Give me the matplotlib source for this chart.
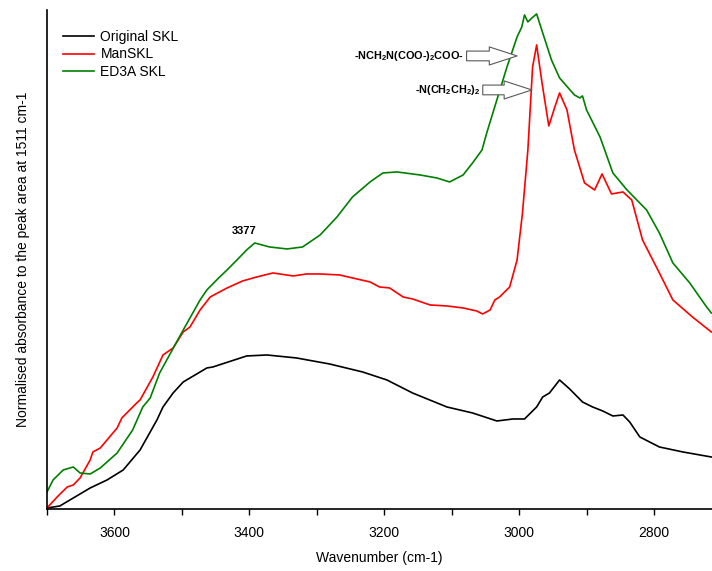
import matplotlib.pyplot as plt
from matplotlib.ticker import MultipleLocator, NullLocator

plt.rcParams["font.family"] = ["Liberation Sans", "DejaVu Sans"]
plt.rcParams["mathtext.fontset"] = "custom"
plt.rcParams["mathtext.rm"] = "Liberation Sans"
plt.rcParams["mathtext.bf"] = "Liberation Sans:bold"

# wavenumber (cm-1) / normalised absorbance
orig_wn = [3700, 3681, 3661, 3636, 3611, 3587, 3562, 3537, 3528, 3513, 3498, 3463,
           3454, 3404, 3374, 3330, 3281, 3232, 3196, 3158, 3107, 3069, 3033, 3009,
           2992, 2974, 2965, 2955, 2940, 2925, 2906, 2891, 2876, 2861, 2846, 2836,
           2821, 2792, 2757, 2715]
orig_abs = [0.002, 0.006, 0.022, 0.042, 0.058, 0.078, 0.118, 0.178, 0.204, 0.232, 0.254, 0.282,
            0.284, 0.306, 0.308, 0.302, 0.290, 0.274, 0.258, 0.232, 0.204, 0.192, 0.176, 0.180,
            0.180, 0.204, 0.224, 0.232, 0.258, 0.240, 0.214, 0.204, 0.196, 0.186, 0.188, 0.174,
            0.144, 0.124, 0.114, 0.104]

man_wn = [3700, 3685, 3670, 3661, 3651, 3636, 3632, 3621, 3611, 3596, 3589, 3567,
          3562, 3543, 3528, 3513, 3498, 3488, 3473, 3458, 3433, 3410, 3389, 3365,
          3335, 3315, 3295, 3266, 3247, 3221, 3207, 3192, 3172, 3158, 3132, 3107,
          3083, 3063, 3054, 3043, 3036, 3029, 3014, 3003, 2995, 2987, 2980, 2974,
          2966, 2956, 2947, 2940, 2929, 2918, 2903, 2888, 2877, 2863, 2846, 2833,
          2817, 2792, 2772, 2743, 2715]
man_abs = [0.002, 0.024, 0.044, 0.048, 0.062, 0.098, 0.114, 0.122, 0.138, 0.162, 0.182, 0.212,
           0.218, 0.264, 0.308, 0.322, 0.354, 0.364, 0.398, 0.424, 0.442, 0.456, 0.464, 0.472,
           0.466, 0.470, 0.470, 0.468, 0.462, 0.454, 0.444, 0.442, 0.424, 0.420, 0.408, 0.406,
           0.402, 0.396, 0.390, 0.398, 0.418, 0.424, 0.444, 0.498, 0.592, 0.718, 0.884, 0.928,
           0.852, 0.766, 0.804, 0.832, 0.798, 0.718, 0.652, 0.638, 0.670, 0.630, 0.634, 0.618,
           0.538, 0.472, 0.418, 0.384, 0.354]

ed3a_wn = [3700, 3691, 3676, 3661, 3651, 3636, 3621, 3596, 3573, 3558, 3547, 3533,
           3498, 3473, 3463, 3444, 3433, 3414, 3404, 3392, 3370, 3344, 3321, 3295,
           3270, 3247, 3221, 3202, 3181, 3147, 3122, 3103, 3083, 3069, 3055, 3048,
           3033, 3018, 3003, 2996, 2992, 2987, 2981, 2974, 2965, 2952, 2940, 2918,
           2910, 2906, 2900, 2880, 2861, 2840, 2811, 2792, 2772, 2747, 2722, 2715]
ed3a_abs = [0.034, 0.058, 0.078, 0.084, 0.072, 0.070, 0.082, 0.112, 0.158, 0.204, 0.222, 0.272,
            0.358, 0.418, 0.438, 0.464, 0.478, 0.504, 0.518, 0.532, 0.524, 0.520, 0.524, 0.548,
            0.584, 0.624, 0.654, 0.672, 0.674, 0.668, 0.662, 0.654, 0.668, 0.692, 0.718, 0.752,
            0.818, 0.884, 0.944, 0.964, 0.988, 0.974, 0.982, 0.990, 0.952, 0.898, 0.862, 0.828,
            0.822, 0.826, 0.798, 0.744, 0.672, 0.638, 0.598, 0.552, 0.492, 0.452, 0.404, 0.392]

fig = plt.figure(figsize=(7.12, 5.71), dpi=100)
ax = fig.add_axes([0.066, 0.1086, 0.934, 0.874])

ax.plot(orig_wn, orig_abs, color="black", lw=1.2, label="Original SKL")
ax.plot(man_wn, man_abs, color="#ff0000", lw=1.2, label="ManSKL")
ax.plot(ed3a_wn, ed3a_abs, color="#008000", lw=1.2, label="ED3A SKL")

ax.set_xlim(3700, 2714)
ax.set_ylim(0, 0.998)

ax.spines["top"].set_visible(False)
ax.spines["right"].set_visible(False)
ax.spines["left"].set_linewidth(1.2)
ax.spines["bottom"].set_linewidth(1.2)
ax.xaxis.set_major_locator(MultipleLocator(200))
ax.xaxis.set_minor_locator(MultipleLocator(100))
ax.yaxis.set_major_locator(NullLocator())
ax.tick_params(axis="x", which="both", direction="out", length=4, width=1, labelsize=10, pad=8)

ax.set_xlabel("Wavenumber (cm-1)", fontsize=10, labelpad=8)
ax.set_ylabel("Normalised absorbance to the peak area at 1511 cm-1", fontsize=10, labelpad=12)

ax.legend(loc="upper left", bbox_to_anchor=(0.024, 0.96), frameon=False, fontsize=10,
          borderpad=0, borderaxespad=0, handlelength=2.2, handletextpad=0.5,
          labelspacing=0.25)

ax.text(3407, 0.556, "3377", fontsize=8, fontweight="bold", ha="center", va="center")

arrow = dict(arrowstyle="simple,head_width=1.3,head_length=2.0,tail_width=0.7",
             fc="white", ec="0.35", lw=0.8, mutation_scale=10, shrinkA=0, shrinkB=0)
ax.annotate(r"-NCH$_\mathbf{2}$N(COO-)$_\mathbf{2}$COO-", xy=(3003, 0.906), xytext=(3082, 0.906),
            fontsize=7.8, fontweight="bold", ha="right", va="center", arrowprops=arrow)
ax.annotate(r"-N(CH$_\mathbf{2}$CH$_\mathbf{2}$)$_\mathbf{2}$", xy=(2981, 0.838), xytext=(3058, 0.838),
            fontsize=7.8, fontweight="bold", ha="right", va="center", arrowprops=arrow)

fig.savefig("out.png", dpi=100)
